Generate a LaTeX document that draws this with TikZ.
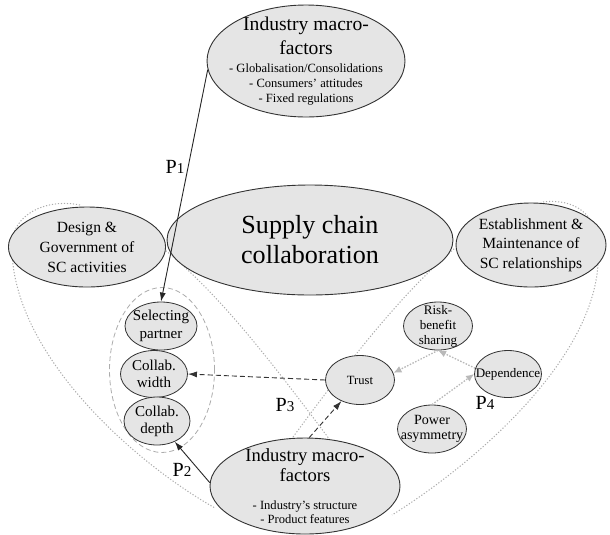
\documentclass[tikz,border=0pt]{standalone}
\usepackage{fontspec}
\setmainfont{Liberation Serif}
\usepackage{tikz}
\usetikzlibrary{shapes.geometric,arrows.meta,positioning}

\newcommand{\fsz}[2]{\fontsize{#1}{#2}\selectfont}

\begin{document}
\begin{tikzpicture}[
    x=0.035cm, y=-0.035cm,
    bigell/.style={ellipse, draw=black!80, fill=gray!20, line width=0.9pt},
    smallell/.style={ellipse, draw=black!80, fill=gray!20, line width=0.8pt},
    group/.style={ellipse, draw=gray!65, dash pattern=on 5pt off 3pt, line width=0.8pt},
    txt/.style={align=center, inner sep=0pt},
    lens/.style={gray!65, dash pattern=on 1.2pt off 1.8pt, line width=1pt},
    solidarr/.style={->, >={Latex[length=9pt, width=6pt]}, line width=0.9pt, black!85},
    dasharr/.style={->, >={Latex[length=9pt, width=6pt]}, dash pattern=on 5pt off 3pt, line width=0.9pt, black!80},
    greyarr/.style={->, >={Latex[length=8pt, width=7pt]}, dash pattern=on 1.5pt off 1.5pt, line width=1.3pt, gray!55},
    plabel/.style={font=\fsz{20}{20}}
]
    \useasboundingbox (0,0) rectangle (610,534);

    % Dotted lenses (behind the ellipses)
    \draw[lens] (80,205) .. controls (45,198) and (12,215) .. (12,245) .. controls (10,350) and (130,460) .. (215,508);
    \draw[lens] (330,440) .. controls (270,360) and (220,295) .. (165,250);
    \draw[lens] (543,202) .. controls (575,198) and (598,215) .. (598,248) .. controls (605,350) and (480,460) .. (392,515);
    \draw[lens] (293,437) .. controls (350,360) and (400,295) .. (455,248);

    % Main ellipses
    \node[bigell, minimum width=6.93cm, minimum height=3.92cm] (topind) at (306,61) {};
    \node[txt, font=\fsz{12.5}{15}] (topind-t) at (topind) {{\fsz{19.5}{22}Industry macro-}\\[5pt]{\fsz{19.5}{22}factors}\\[3pt]- Globalisation/Consolidations\\- Consumers' attitudes\\- Fixed regulations};
    \node[bigell, minimum width=10.01cm, minimum height=3.85cm] (scc) at (310,240) {};
    \node[txt, font=\fsz{26}{30}] (scc-t) at (scc) {Supply chain\\collaboration};
    \node[bigell, minimum width=5.5cm, minimum height=2.8cm] (design) at (87,247) {};
    \node[txt, font=\fsz{15.5}{20}] (design-t) at (design) {Design \&\\Government of\\SC activities};
    \node[bigell, minimum width=5.25cm, minimum height=2.94cm] (estab) at (531,245) {};
    \node[txt, font=\fsz{15.5}{19.5}] (estab-t) at (estab) {Establishment \&\\Maintenance of\\SC relationships};

    % Collaboration dimensions
    \node[group, minimum width=3.675cm, minimum height=5.775cm] (dims) at (162,370) {};
    \node[smallell, minimum width=2.52cm, minimum height=1.68cm] (selpart) at (161,326) {};
    \node[txt, font=\fsz{15}{17.5}] (selpart-t) at (selpart) {Selecting\\partner};
    \node[smallell, minimum width=2.345cm, minimum height=1.645cm] (cwidth) at (154,374) {};
    \node[txt, font=\fsz{15}{17}] (cwidth-t) at (cwidth) {Collab.\\width};
    \node[smallell, minimum width=2.31cm, minimum height=1.68cm] (cdepth) at (157,421) {};
    \node[txt, font=\fsz{15}{17}] (cdepth-t) at (cdepth) {Collab.\\depth};

    % Relationship factors
    \node[smallell, minimum width=2.415cm, minimum height=1.715cm] (trust) at (360,380) {};
    \node[txt, font=\fsz{12.5}{15}] (trust-t) at (trust) {Trust};
    \node[smallell, minimum width=2.415cm, minimum height=1.68cm] (risk) at (438,326) {};
    \node[txt, font=\fsz{13}{15}] (risk-t) at (risk) {Risk-\\benefit\\sharing};
    \node[smallell, minimum width=2.345cm, minimum height=1.645cm] (depend) at (508,374) {};
    \node[txt, font=\fsz{13}{15}] (depend-t) at (depend) {Dependence};
    \node[smallell, minimum width=2.415cm, minimum height=1.68cm] (power) at (432,429) {};
    \node[txt, font=\fsz{14}{15}] (power-t) at (power) {Power\\asymmetry};

    % Bottom macro-factors
    \node[bigell, minimum width=6.65cm, minimum height=3.36cm] (botind) at (305,486) {};
    \node[txt, font=\fsz{12.5}{14}] (botind-t) at (botind) {{\fsz{18.5}{19}Industry macro-}\\[2pt]{\fsz{18.5}{19}factors}\\[14pt]- Industry's structure\\- Product features};

    % Propositions
    \draw[solidarr] (topind.185) -- (selpart.north);
    \node[plabel] (p1) at (175,167) {P{\fsz{15}{15}1}};
    \draw[solidarr] (botind.178) -- (cdepth);
    \node[plabel] (p2) at (182,470) {P{\fsz{15}{15}2}};
    \draw[dasharr] (trust.west) -- (cwidth.east);
    \draw[dasharr] (botind.85) -- (trust);
    \node[plabel] (p3) at (285,405) {P{\fsz{15}{15}3}};
    \draw[greyarr] (depend.170) -- (risk.south);
    \draw[greyarr] (risk.south) -- (trust.12);
    \draw[greyarr] (power.north) -- (depend.west);
    \node[plabel] (p4) at (485,403) {P{\fsz{15}{15}4}};
\end{tikzpicture}
\end{document}
